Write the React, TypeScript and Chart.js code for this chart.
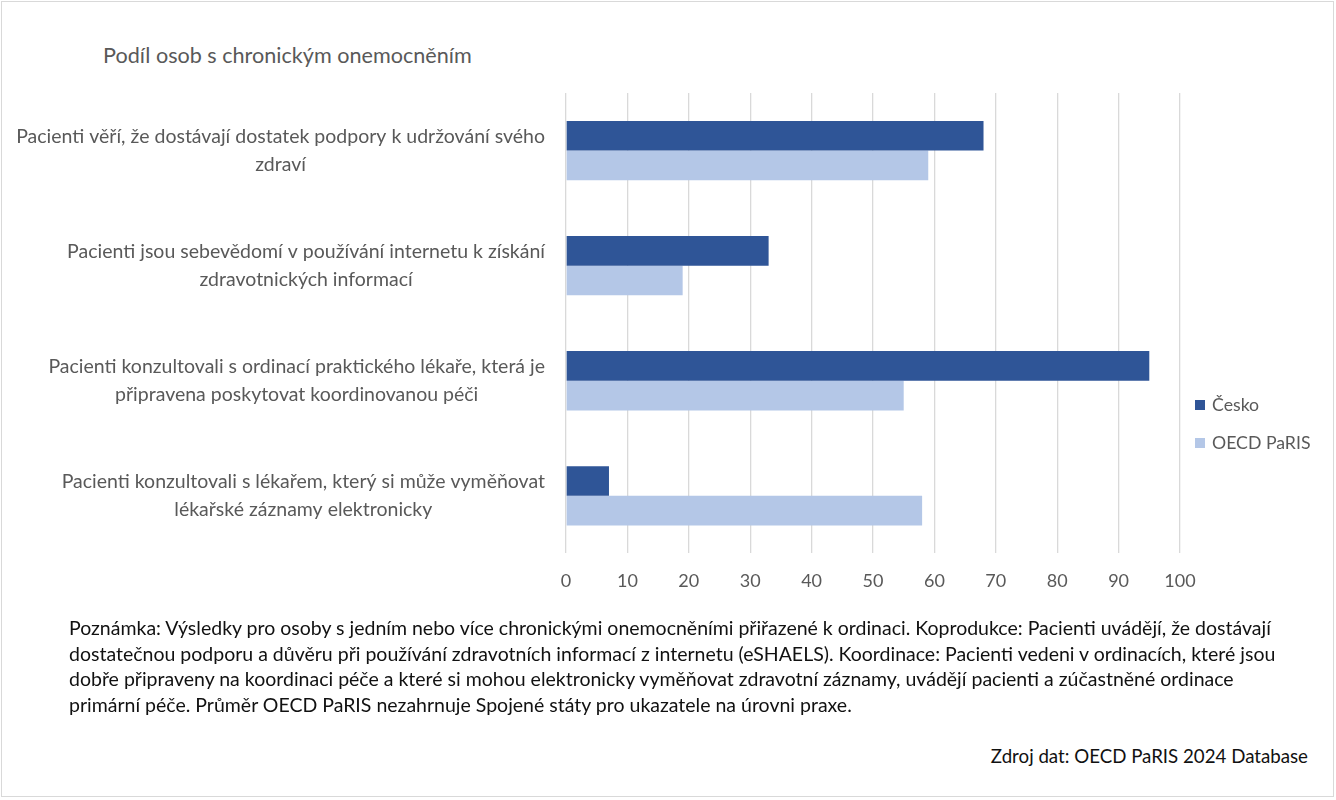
import { useEffect, useRef } from 'react';
import { Chart, registerables, type Plugin } from 'chart.js';

Chart.register(...registerables);

const FONT = 'Lato, "Open Sans", sans-serif';

const categoryLines: string[][] = [
  ['Pacienti věří, že dostávají dostatek podpory k udržování svého', 'zdraví'],
  ['Pacienti jsou sebevědomí v používání internetu k získání', 'zdravotnických informací'],
  ['Pacienti konzultovali s ordinací praktického lékaře, která je', 'připravena poskytovat koordinovanou péči'],
  ['Pacienti konzultovali s lékařem, který si může vyměňovat', 'lékařské záznamy elektronicky'],
];
const seriesNames = ['Česko', 'OECD PaRIS'];
const ceskoValues = [68, 33, 95, 7];
const oecdValues = [59, 19, 55, 58];
const seriesColors = ['#2F5597', '#B4C7E7'];

const title = 'Podíl osob s chronickým onemocněním';
const noteLines = [
  'Poznámka: Výsledky pro osoby s jedním nebo více chronickými onemocněními přiřazené k ordinaci. Koprodukce: Pacienti uvádějí, že dostávají',
  'dostatečnou podporu a důvěru při používání zdravotních informací z internetu (eSHAELS). Koordinace: Pacienti vedeni v ordinacích, které jsou',
  'dobře připraveny na koordinaci péče a které si mohou elektronicky vyměňovat zdravotní záznamy, uvádějí pacienti a zúčastněné ordinace',
  'primární péče. Průměr OECD PaRIS nezahrnuje Spojené státy pro ukazatele na úrovni praxe.',
];
const source = 'Zdroj dat: OECD PaRIS 2024 Database';

// category labels: block right-aligned to the axis, lines centred in the block
const categoryLabelsPlugin: Plugin = {
  id: 'categoryLabels',
  afterDraw(c) {
    const ctx = c.ctx;
    const yScale = c.scales.y;
    const right = c.chartArea.left - 21;
    const lineH = 28;
    ctx.save();
    ctx.font = `19.5px ${FONT}`;
    ctx.fillStyle = '#595959';
    ctx.textAlign = 'center';
    ctx.textBaseline = 'middle';
    categoryLines.forEach((lines, i) => {
      const yc = yScale.getPixelForValue(i);
      const w = Math.max(...lines.map((l) => ctx.measureText(l).width));
      const xc = right - w / 2;
      lines.forEach((l, j) => {
        ctx.fillText(l, xc, yc + (j - (lines.length - 1) / 2) * lineH);
      });
    });
    ctx.restore();
  },
};

export default function App() {
  const canvasRef = useRef<HTMLCanvasElement>(null);

  useEffect(() => {
    document.body.style.margin = '0';
    const canvas = canvasRef.current;
    if (!canvas) return;
    const chart = new Chart(canvas, {
      type: 'bar',
      data: {
        labels: categoryLines.map((l) => l.join(' ')),
        datasets: [
          {
            label: seriesNames[0],
            data: ceskoValues,
            backgroundColor: seriesColors[0],
            barPercentage: 1,
            categoryPercentage: 0.515,
          },
          {
            label: seriesNames[1],
            data: oecdValues,
            backgroundColor: seriesColors[1],
            barPercentage: 1,
            categoryPercentage: 0.515,
          },
        ],
      },
      options: {
        indexAxis: 'y',
        responsive: false,
        maintainAspectRatio: false,
        animation: false,
        layout: { padding: { left: 566, right: 156, top: 13, bottom: 29 } },
        plugins: {
          legend: { display: false },
          tooltip: { enabled: false },
        },
        scales: {
          x: {
            min: 0,
            max: 100,
            ticks: {
              stepSize: 10,
              color: '#595959',
              font: { family: FONT, size: 18 },
              padding: 17,
            },
            grid: { color: '#d9d9d9', lineWidth: 1.3, drawTicks: false },
            border: { display: false },
          },
          y: {
            display: false,
          },
        },
      },
      plugins: [categoryLabelsPlugin],
    });
    return () => chart.destroy();
  }, []);

  return (
    <div
      style={{
        position: 'relative',
        width: 1336,
        height: 800,
        background: '#fff',
        fontFamily: FONT,
        overflow: 'hidden',
      }}
    >
      <div
        style={{
          position: 'absolute',
          left: 1,
          top: 1,
          width: 1333,
          height: 796,
          border: '1.5px solid #d9d9d9',
          boxSizing: 'border-box',
        }}
      />
      <div style={{ position: 'absolute', left: 103, top: 42, fontSize: 21.6, color: '#595959', whiteSpace: 'nowrap' }}>{title}</div>
      <canvas ref={canvasRef} width={1336} height={558} style={{ position: 'absolute', left: 0, top: 80, width: 1336, height: 558 }} />
      <div style={{ position: 'absolute', left: 1195, top: 393, fontSize: 17.7, color: '#595959', lineHeight: '24px' }}>
        {seriesNames.map((n, i) => (
          <div key={n} style={{ display: 'flex', alignItems: 'center', marginBottom: 14 }}>
            <span style={{ display: 'inline-block', width: 10, height: 10, background: seriesColors[i], marginRight: 7 }} />
            {n}
          </div>
        ))}
      </div>
      <div style={{ position: 'absolute', left: 69, top: 615, fontSize: 19.5, color: '#111', lineHeight: '25.7px', whiteSpace: 'nowrap' }}>
        {noteLines.map((l) => (
          <div key={l}>{l}</div>
        ))}
      </div>
      <div style={{ position: 'absolute', right: 28, top: 745, fontSize: 18.7, color: '#111', whiteSpace: 'nowrap' }}>{source}</div>
    </div>
  );
}
